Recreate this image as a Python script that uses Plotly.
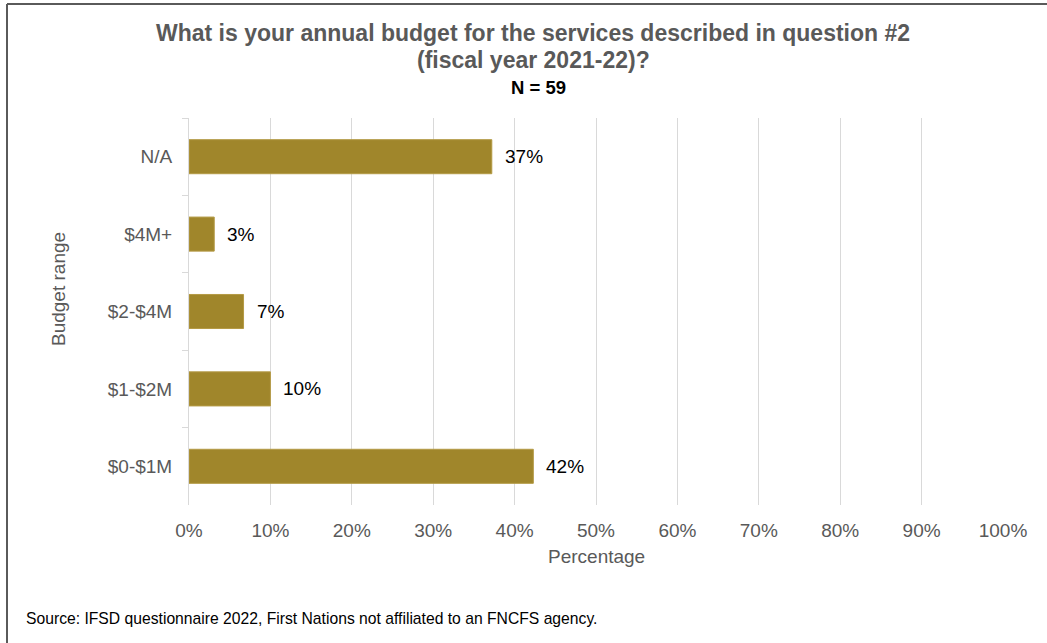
import plotly.graph_objects as go

# Survey responses (share of respondents, %), listed top to bottom
categories = ["N/A", "$4M+", "$2-$4M", "$1-$2M", "$0-$1M"]
shares = [37.2, 3.1, 6.7, 10.0, 42.3]
x_ticks = [0, 10, 20, 30, 40, 50, 60, 70, 80, 90, 100]
x_tick_labels = [f"{t}%" for t in x_ticks]

title_line1 = "What is your annual budget for the services described in question #2"
title_line2 = "(fiscal year 2021-22)?"
subtitle = "N = 59"
source_note = "Source: IFSD questionnaire 2022, First Nations not affiliated to an FNCFS agency."

W, H = 1047, 643
ML, MR, MT, MB = 189, 44, 118, 138
PW, PH = W - ML - MR, H - MT - MB

FONT = "Liberation Sans, Arial, sans-serif"
GREY_TEXT = "#595959"
BAR = "#A0862B"


def px_x(px):
    return (px - ML) / PW


def px_y(py):
    return 1 - (py - MT) / PH


fig = go.Figure()
fig.add_trace(go.Bar(
    x=shares,
    y=categories,
    orientation="h",
    width=0.44,
    marker=dict(color=BAR, line=dict(color="#B49A45", width=1)),
    hoverinfo="x+y",
))

annotations = []
# value labels beside each bar
for cat, v in zip(categories, shares):
    annotations.append(dict(
        x=v, y=cat, xref="x", yref="y", text=f"{round(v)}%",
        showarrow=False, xanchor="left", yanchor="middle", xshift=11,
        font=dict(family=FONT, size=19, color="#000000"),
    ))

# titles
annotations += [
    dict(x=px_x(533), y=px_y(33), xref="paper", yref="paper", text=f"<b>{title_line1}</b>",
         showarrow=False, xanchor="center", yanchor="middle",
         font=dict(family=FONT, size=23, color=GREY_TEXT)),
    dict(x=px_x(533), y=px_y(60), xref="paper", yref="paper", text=f"<b>{title_line2}</b>",
         showarrow=False, xanchor="center", yanchor="middle",
         font=dict(family=FONT, size=23, color=GREY_TEXT)),
    dict(x=px_x(538), y=px_y(87), xref="paper", yref="paper", text=f"<b>{subtitle}</b>",
         showarrow=False, xanchor="center", yanchor="middle",
         font=dict(family=FONT, size=18.5, color="#000000")),
    dict(x=px_x(58), y=px_y(289), xref="paper", yref="paper", text="Budget range",
         showarrow=False, xanchor="center", yanchor="middle", textangle=-90,
         font=dict(family=FONT, size=19, color=GREY_TEXT)),
    dict(x=px_x(596), y=px_y(556), xref="paper", yref="paper", text="Percentage",
         showarrow=False, xanchor="center", yanchor="middle",
         font=dict(family=FONT, size=19, color=GREY_TEXT)),
    dict(x=px_x(24), y=px_y(618), xref="paper", yref="paper", text=source_note,
         showarrow=False, xanchor="left", yanchor="middle",
         font=dict(family=FONT, size=15.7, color="#000000")),
]

# outer frame: top and left edges
shapes = [
    dict(type="line", xref="paper", yref="paper",
         x0=px_x(7), x1=px_x(1060), y0=px_y(4), y1=px_y(4),
         line=dict(color="#5a5a5a", width=2)),
    dict(type="line", xref="paper", yref="paper",
         x0=px_x(7), x1=px_x(7), y0=px_y(4), y1=px_y(660),
         line=dict(color="#5a5a5a", width=2)),
]

fig.update_layout(
    width=W, height=H,
    margin=dict(l=ML, r=MR, t=MT, b=MB, pad=0),
    paper_bgcolor="white", plot_bgcolor="white",
    showlegend=False,
    bargap=0.56,
    annotations=annotations,
    shapes=shapes,
    xaxis=dict(
        range=[0, 100], tickvals=x_ticks, ticktext=x_tick_labels,
        showgrid=True, gridcolor="#d9d9d9", gridwidth=1,
        zeroline=False, showline=False, ticks="",
        tickfont=dict(family=FONT, size=19, color=GREY_TEXT),
        ticklabelstandoff=12,
        fixedrange=True,
    ),
    yaxis=dict(
        type="category", categoryorder="array", categoryarray=categories,
        autorange="reversed",
        showgrid=False, zeroline=False,
        showline=True, linecolor="#d9d9d9", linewidth=1,
        ticks="outside", tickson="boundaries", ticklen=6, tickcolor="#d9d9d9",
        tickfont=dict(family=FONT, size=19, color=GREY_TEXT),
        ticklabelstandoff=12,
        fixedrange=True,
    ),
)

fig.write_html("out.html")
